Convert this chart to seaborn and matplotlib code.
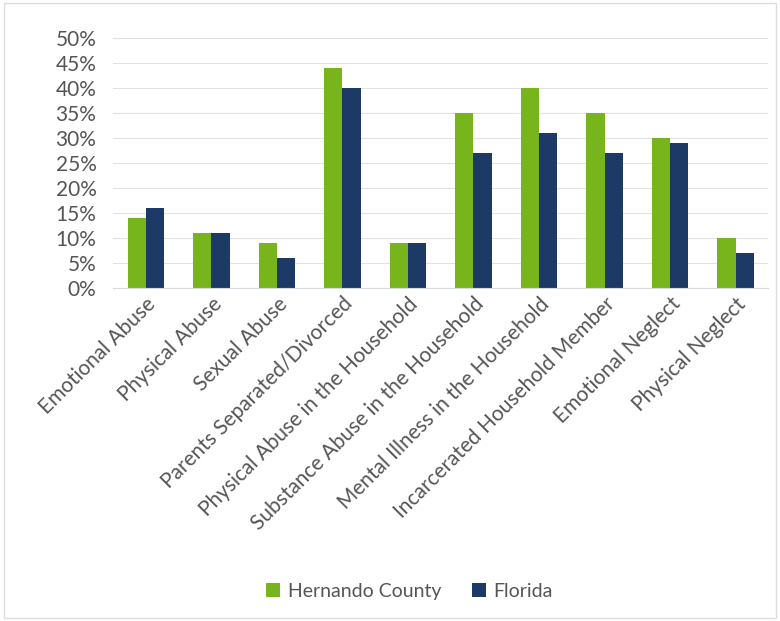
import matplotlib
matplotlib.use("Agg")
import matplotlib.pyplot as plt
import seaborn as sns
import pandas as pd
from matplotlib.ticker import FuncFormatter

categories = ["Emotional Abuse", "Physical Abuse", "Sexual Abuse", "Parents Separated/Divorced",
              "Physical Abuse in the Household", "Substance Abuse in the Household",
              "Mental Illness in the Household", "Incarcerated Household Member",
              "Emotional Neglect", "Physical Neglect"]
hernando = [14, 11, 9, 44, 9, 35, 40, 35, 30, 10]
florida = [16, 11, 6, 40, 9, 27, 31, 27, 29, 7]
series = ["Hernando County", "Florida"]
colors = ["#78b41c", "#1d3a66"]

df = pd.DataFrame({
    "Category": categories * 2,
    "Value": hernando + florida,
    "Series": [series[0]] * len(categories) + [series[1]] * len(categories),
})

sns.set_style("white")
plt.rcParams["font.family"] = ["Lato", "DejaVu Sans"]

fig = plt.figure(figsize=(7.8, 6.21), dpi=100)
ax = fig.add_axes([0.145, 0.536, 0.84, 0.403])
sns.barplot(data=df, x="Category", y="Value", hue="Series", palette=colors,
            width=0.56, gap=0, linewidth=0, ax=ax, saturation=1, legend=True)

ax.set_ylim(0, 50)
ax.set_yticks(range(0, 51, 5))
ax.yaxis.set_major_formatter(FuncFormatter(lambda v, p: f"{int(v)}%"))
ax.set_xlim(-0.5, len(categories) - 0.5)
ax.grid(axis="y", color="#e2e2e2", linewidth=0.8)
ax.set_axisbelow(True)
for s in ["top", "right", "left"]:
    ax.spines[s].set_visible(False)
ax.spines["bottom"].set_color("#d9d9d9")
ax.set_xlabel("")
ax.set_ylabel("")
ax.tick_params(axis="y", length=0, labelsize=15, labelcolor="#555555", pad=12)
ax.tick_params(axis="x", length=0, labelsize=15, labelcolor="#555555", pad=4)
plt.setp(ax.get_xticklabels(), rotation=45, ha="right", rotation_mode="anchor")

ax.legend_.remove()
handles, labels = ax.get_legend_handles_labels()
fig.legend(handles, labels, loc="center", bbox_to_anchor=(0.525, 0.048), ncol=2,
           frameon=False, fontsize=14, handlelength=0.7, handleheight=0.7,
           columnspacing=1.6, handletextpad=0.4, labelcolor="#555555")

fig.patches.append(plt.Rectangle((0.005, 0.005), 0.99, 0.99, transform=fig.transFigure,
                                 fill=False, edgecolor="#dddddd", linewidth=1))
fig.savefig("out.png", dpi=100)
